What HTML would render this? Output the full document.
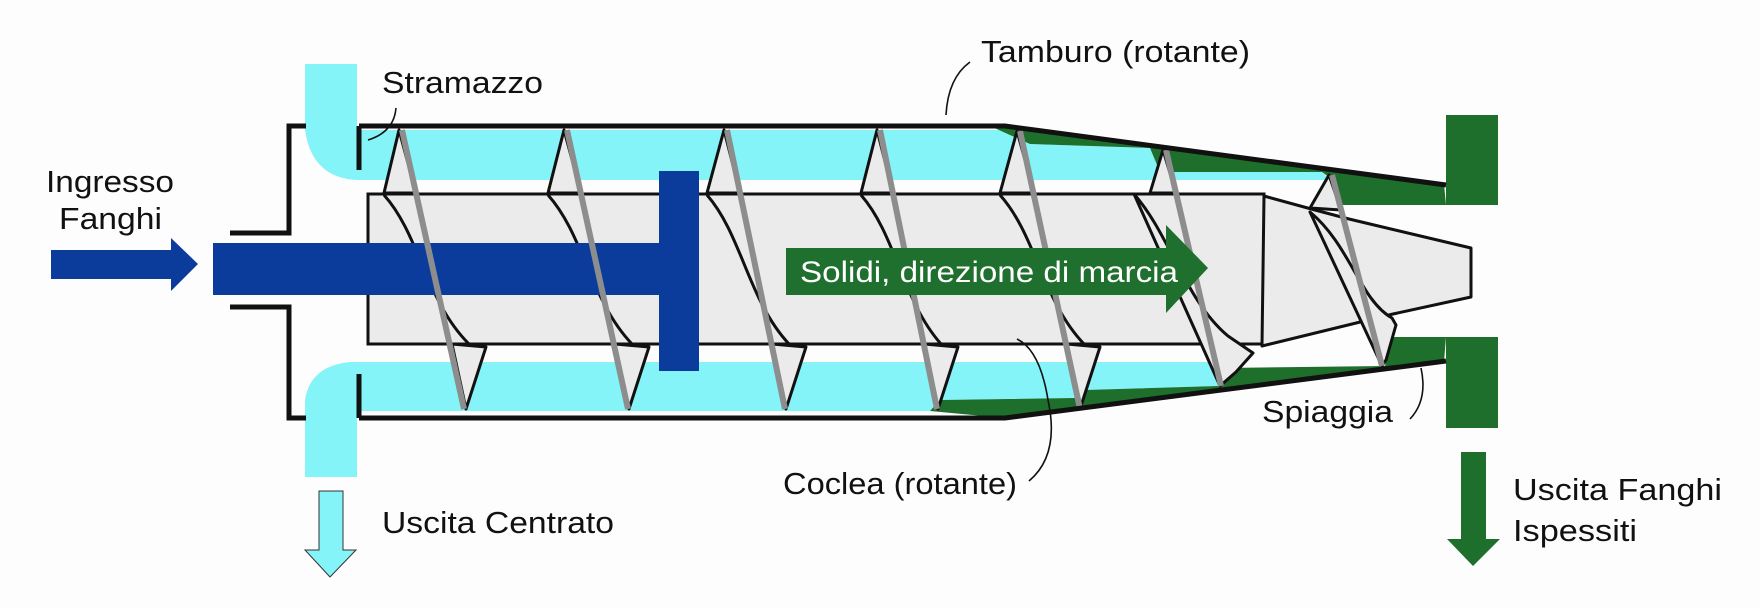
<!DOCTYPE html>
<html><head><meta charset="utf-8"><style>
html,body{margin:0;padding:0;background:#fdfdfd;}
svg{display:block;}
text{font-family:"Liberation Sans",Arial,sans-serif;}
</style></head><body>
<svg width="1760" height="608" viewBox="0 0 1760 608" xmlns="http://www.w3.org/2000/svg">
<rect width="1760" height="608" fill="#fdfdfd"/>

<path d="M305,64 H357 V130 H1003 L1030,144 L1150,148 L1160,172 L1322,172 L1330,180 H357 Q312,178 305,130 Z" fill="#84f4f8"/>
<path d="M357,362 H1222 L1218,386 L1085,390 L1075,398 L940,400 L930,411 H357 V477 H305 V400 Q310,366 350,362 Z" fill="#84f4f8"/>

<path d="M990,126 L1444,184 L1446,205 L1340,205 L1330,178 L1322,172 L1160,172 L1150,148 L1030,144 Z" fill="#1e6e2c"/>
<rect x="1446" y="115" width="52" height="90" fill="#1e6e2c"/>
<path d="M930,411 L1005,418 L1444,362 L1446,337 L1392,337 L1385,366 L1222,368 L1218,386 L1085,390 L1075,398 L940,400 Z" fill="#1e6e2c"/>
<rect x="1446" y="337" width="52" height="91" fill="#1e6e2c"/>

<rect x="368" y="194" width="896" height="150" fill="#ebebeb" stroke="#111" stroke-width="3"/>
<path d="M1264,196 L1315,210 L1349,219 L1471,248 L1471,297 L1393,314 L1262,346 Z" fill="#ebebeb" stroke="#111" stroke-width="3" stroke-linejoin="round"/>

<g fill="#ebebeb" stroke="#111" stroke-width="3" stroke-linejoin="round">
<path d="M384,193 L399,130 L416,193 Z"/>
<path d="M384,195 C420,235 425,300 469,344" fill="none"/>
<path d="M452,344 L486,347 L466,409 Z"/>
<path d="M548,193 L564,130 L581,193 Z"/>
<path d="M548,195 C584,235 590,300 632,344" fill="none"/>
<path d="M615,344 L649,347 L629,409 Z"/>
<path d="M707,193 L724,130 L740,193 Z"/>
<path d="M707,195 C742,235 748,300 789,344" fill="none"/>
<path d="M772,344 L806,347 L786,409 Z"/>
<path d="M861,193 L877,130 L893,193 Z"/>
<path d="M861,195 C896,235 902,300 941,344" fill="none"/>
<path d="M924,344 L958,347 L938,409 Z"/>
<path d="M1000,193 L1017,131 L1034,193 Z"/>
<path d="M1000,195 C1036,235 1042,300 1084,344" fill="none"/>
<path d="M1067,344 L1100,347 L1080,409 Z"/>
<path d="M1150,193 L1163,150 L1176,193 Z"/>
<path d="M1134,194 C1170,235 1185,300 1228,336 L1253,353 L1236,372 L1220,386 Z"/>
<path d="M1310,208 L1329,175 L1341,210 Z"/>
<path d="M1310,212 C1350,245 1360,300 1392,318 L1396,325 L1386,360 L1382,366 Z"/>
</g>

<rect x="213" y="243" width="446" height="52" fill="#0b3c9c"/>
<rect x="659" y="171" width="40" height="200" fill="#0b3c9c"/>

<g stroke="#8d8d8d" stroke-width="6" stroke-linecap="butt">
<line x1="402" y1="130" x2="464" y2="409"/>
<line x1="567" y1="130" x2="628" y2="409"/>
<line x1="727" y1="130" x2="785" y2="409"/>
<line x1="880" y1="130" x2="937" y2="409"/>
<line x1="1020" y1="131" x2="1080" y2="409"/>
<line x1="1166" y1="150" x2="1221" y2="386"/>
<line x1="1332" y1="175" x2="1382" y2="366"/>
</g>

<g fill="none" stroke="#111" stroke-width="5" stroke-linejoin="miter">
<path d="M306,126 H289 V233 H230"/>
<path d="M230,307 H289 V418 H306"/>
<path d="M359,126 H1005 L1446,185"/>
<path d="M359,418 H1005 L1446,361"/>
<path d="M359,126 V170"/>
<path d="M359,374 V418"/>
</g>

<path d="M786,248 H1166 V225 L1208,268 L1166,313 V295 H786 Z" fill="#1f6f2e"/>
<text x="800" y="282" font-size="30" fill="#ffffff" textLength="378" lengthAdjust="spacingAndGlyphs">Solidi, direzione di marcia</text>

<path d="M51,250 H171 V238 L198,264 L171,291 V279 H51 Z" fill="#0b3c9c"/>
<path d="M319,491 H343 V550 H356 L330,577 L305,550 H319 Z" fill="#84f4f8" stroke="#333" stroke-width="1"/>
<path d="M1461,452 H1486 V539 H1500 L1473,566 L1447,539 H1461 Z" fill="#1e6e2c"/>

<g fill="none" stroke="#111" stroke-width="1.6">
<path d="M396,108 Q394,132 368,140"/>
<path d="M970,62 Q948,78 946,115"/>
<path d="M1029,481 Q1060,455 1048,400 Q1040,350 1017,339"/>
<path d="M1410,419 Q1428,400 1421,368"/>
</g>

<g font-size="31" fill="#111">
<text x="382" y="93" textLength="161" lengthAdjust="spacingAndGlyphs">Stramazzo</text>
<text x="46" y="192" textLength="128" lengthAdjust="spacingAndGlyphs">Ingresso</text>
<text x="59" y="229" textLength="103" lengthAdjust="spacingAndGlyphs">Fanghi</text>
<text x="382" y="533" textLength="232" lengthAdjust="spacingAndGlyphs">Uscita Centrato</text>
<text x="981" y="62" textLength="269" lengthAdjust="spacingAndGlyphs">Tamburo (rotante)</text>
<text x="783" y="494" textLength="234" lengthAdjust="spacingAndGlyphs">Coclea (rotante)</text>
<text x="1262" y="422" textLength="131" lengthAdjust="spacingAndGlyphs">Spiaggia</text>
<text x="1513" y="500" textLength="209" lengthAdjust="spacingAndGlyphs">Uscita Fanghi</text>
<text x="1513" y="541" textLength="124" lengthAdjust="spacingAndGlyphs">Ispessiti</text>
</g>
</svg>
</body></html>
